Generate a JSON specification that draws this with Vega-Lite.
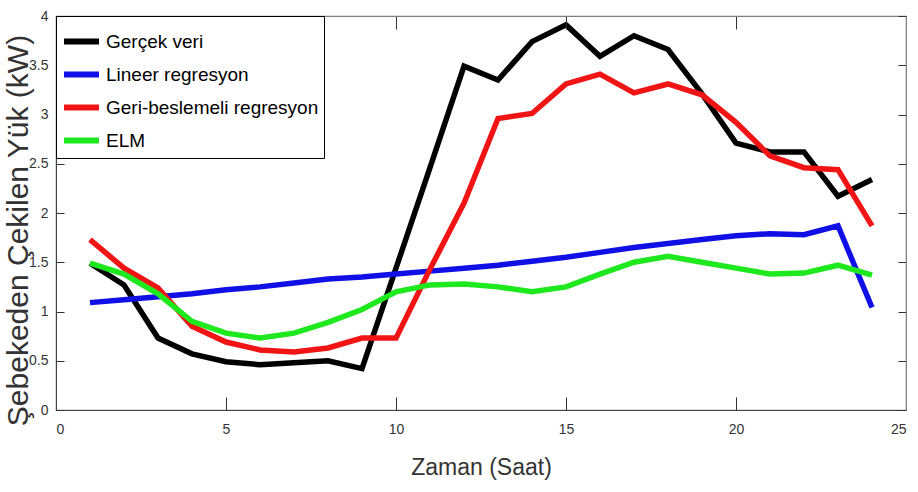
{
  "$schema": "https://vega.github.io/schema/vega-lite/v6.json",
  "width": 850,
  "height": 394,
  "autosize": {"type": "none"},
  "padding": {"left": 56, "top": 16, "right": 12, "bottom": 82},
  "background": "white",
  "config": {
    "font": "Liberation Sans, Arial, sans-serif",
    "view": {"stroke": "#808080", "strokeWidth": 1.2}
  },
  "data": {
    "values": [
      {"saat": 1, "seri": "Gerçek veri", "yuk": 1.49},
      {"saat": 2, "seri": "Gerçek veri", "yuk": 1.27},
      {"saat": 3, "seri": "Gerçek veri", "yuk": 0.73},
      {"saat": 4, "seri": "Gerçek veri", "yuk": 0.57},
      {"saat": 5, "seri": "Gerçek veri", "yuk": 0.49},
      {"saat": 6, "seri": "Gerçek veri", "yuk": 0.46},
      {"saat": 7, "seri": "Gerçek veri", "yuk": 0.48},
      {"saat": 8, "seri": "Gerçek veri", "yuk": 0.5},
      {"saat": 9, "seri": "Gerçek veri", "yuk": 0.42},
      {"saat": 10, "seri": "Gerçek veri", "yuk": 1.44},
      {"saat": 11, "seri": "Gerçek veri", "yuk": 2.46},
      {"saat": 12, "seri": "Gerçek veri", "yuk": 3.49},
      {"saat": 13, "seri": "Gerçek veri", "yuk": 3.35},
      {"saat": 14, "seri": "Gerçek veri", "yuk": 3.74},
      {"saat": 15, "seri": "Gerçek veri", "yuk": 3.91},
      {"saat": 16, "seri": "Gerçek veri", "yuk": 3.59},
      {"saat": 17, "seri": "Gerçek veri", "yuk": 3.8},
      {"saat": 18, "seri": "Gerçek veri", "yuk": 3.66},
      {"saat": 19, "seri": "Gerçek veri", "yuk": 3.21},
      {"saat": 20, "seri": "Gerçek veri", "yuk": 2.71},
      {"saat": 21, "seri": "Gerçek veri", "yuk": 2.62},
      {"saat": 22, "seri": "Gerçek veri", "yuk": 2.62},
      {"saat": 23, "seri": "Gerçek veri", "yuk": 2.17},
      {"saat": 24, "seri": "Gerçek veri", "yuk": 2.34},
      {"saat": 1, "seri": " Lineer regresyon", "yuk": 1.09},
      {"saat": 2, "seri": " Lineer regresyon", "yuk": 1.12},
      {"saat": 3, "seri": " Lineer regresyon", "yuk": 1.15},
      {"saat": 4, "seri": " Lineer regresyon", "yuk": 1.18},
      {"saat": 5, "seri": " Lineer regresyon", "yuk": 1.22},
      {"saat": 6, "seri": " Lineer regresyon", "yuk": 1.25},
      {"saat": 7, "seri": " Lineer regresyon", "yuk": 1.29},
      {"saat": 8, "seri": " Lineer regresyon", "yuk": 1.33},
      {"saat": 9, "seri": " Lineer regresyon", "yuk": 1.35},
      {"saat": 10, "seri": " Lineer regresyon", "yuk": 1.38},
      {"saat": 11, "seri": " Lineer regresyon", "yuk": 1.41},
      {"saat": 12, "seri": " Lineer regresyon", "yuk": 1.44},
      {"saat": 13, "seri": " Lineer regresyon", "yuk": 1.47},
      {"saat": 14, "seri": " Lineer regresyon", "yuk": 1.51},
      {"saat": 15, "seri": " Lineer regresyon", "yuk": 1.55},
      {"saat": 16, "seri": " Lineer regresyon", "yuk": 1.6},
      {"saat": 17, "seri": " Lineer regresyon", "yuk": 1.65},
      {"saat": 18, "seri": " Lineer regresyon", "yuk": 1.69},
      {"saat": 19, "seri": " Lineer regresyon", "yuk": 1.73},
      {"saat": 20, "seri": " Lineer regresyon", "yuk": 1.77},
      {"saat": 21, "seri": " Lineer regresyon", "yuk": 1.79},
      {"saat": 22, "seri": " Lineer regresyon", "yuk": 1.78},
      {"saat": 23, "seri": " Lineer regresyon", "yuk": 1.87},
      {"saat": 24, "seri": " Lineer regresyon", "yuk": 1.04},
      {"saat": 1, "seri": "Geri-beslemeli regresyon", "yuk": 1.73},
      {"saat": 2, "seri": "Geri-beslemeli regresyon", "yuk": 1.44},
      {"saat": 3, "seri": "Geri-beslemeli regresyon", "yuk": 1.24},
      {"saat": 4, "seri": "Geri-beslemeli regresyon", "yuk": 0.85},
      {"saat": 5, "seri": "Geri-beslemeli regresyon", "yuk": 0.69},
      {"saat": 6, "seri": "Geri-beslemeli regresyon", "yuk": 0.61},
      {"saat": 7, "seri": "Geri-beslemeli regresyon", "yuk": 0.59},
      {"saat": 8, "seri": "Geri-beslemeli regresyon", "yuk": 0.63},
      {"saat": 9, "seri": "Geri-beslemeli regresyon", "yuk": 0.73},
      {"saat": 10, "seri": "Geri-beslemeli regresyon", "yuk": 0.73},
      {"saat": 11, "seri": "Geri-beslemeli regresyon", "yuk": 1.43},
      {"saat": 12, "seri": "Geri-beslemeli regresyon", "yuk": 2.1},
      {"saat": 13, "seri": "Geri-beslemeli regresyon", "yuk": 2.96},
      {"saat": 14, "seri": "Geri-beslemeli regresyon", "yuk": 3.01},
      {"saat": 15, "seri": "Geri-beslemeli regresyon", "yuk": 3.31},
      {"saat": 16, "seri": "Geri-beslemeli regresyon", "yuk": 3.41},
      {"saat": 17, "seri": "Geri-beslemeli regresyon", "yuk": 3.22},
      {"saat": 18, "seri": "Geri-beslemeli regresyon", "yuk": 3.31},
      {"saat": 19, "seri": "Geri-beslemeli regresyon", "yuk": 3.2},
      {"saat": 20, "seri": "Geri-beslemeli regresyon", "yuk": 2.92},
      {"saat": 21, "seri": "Geri-beslemeli regresyon", "yuk": 2.58},
      {"saat": 22, "seri": "Geri-beslemeli regresyon", "yuk": 2.46},
      {"saat": 23, "seri": "Geri-beslemeli regresyon", "yuk": 2.44},
      {"saat": 24, "seri": "Geri-beslemeli regresyon", "yuk": 1.87},
      {"saat": 1, "seri": "ELM", "yuk": 1.49},
      {"saat": 2, "seri": "ELM", "yuk": 1.38},
      {"saat": 3, "seri": "ELM", "yuk": 1.18},
      {"saat": 4, "seri": "ELM", "yuk": 0.9},
      {"saat": 5, "seri": "ELM", "yuk": 0.78},
      {"saat": 6, "seri": "ELM", "yuk": 0.73},
      {"saat": 7, "seri": "ELM", "yuk": 0.78},
      {"saat": 8, "seri": "ELM", "yuk": 0.89},
      {"saat": 9, "seri": "ELM", "yuk": 1.02},
      {"saat": 10, "seri": "ELM", "yuk": 1.2},
      {"saat": 11, "seri": "ELM", "yuk": 1.27},
      {"saat": 12, "seri": "ELM", "yuk": 1.28},
      {"saat": 13, "seri": "ELM", "yuk": 1.25},
      {"saat": 14, "seri": "ELM", "yuk": 1.2},
      {"saat": 15, "seri": "ELM", "yuk": 1.25},
      {"saat": 16, "seri": "ELM", "yuk": 1.38},
      {"saat": 17, "seri": "ELM", "yuk": 1.5},
      {"saat": 18, "seri": "ELM", "yuk": 1.56},
      {"saat": 19, "seri": "ELM", "yuk": 1.5},
      {"saat": 20, "seri": "ELM", "yuk": 1.44},
      {"saat": 21, "seri": "ELM", "yuk": 1.38},
      {"saat": 22, "seri": "ELM", "yuk": 1.39},
      {"saat": 23, "seri": "ELM", "yuk": 1.47},
      {"saat": 24, "seri": "ELM", "yuk": 1.37}
    ]
  },
  "layer": [
    {
      "mark": {"type": "line", "strokeWidth": 5.5, "strokeJoin": "miter", "clip": true},
      "encoding": {
        "x": {
          "field": "saat",
          "type": "quantitative",
          "scale": {"domain": [0, 25], "nice": false, "zero": false},
          "axis": {
            "orient": "bottom",
            "values": [0, 5, 10, 15, 20, 25],
            "grid": false,
            "ticks": true,
            "tickSize": -13,
            "tickWidth": 1,
            "tickColor": "#333333",
            "domainColor": "#404040",
            "labelPadding": 25,
            "labelFontSize": 14,
            "labelColor": "#333333",
            "title": "Zaman (Saat)",
            "titleFontSize": 23,
            "titleFontWeight": "normal",
            "titleColor": "#333333",
            "titleX": 425,
            "titleY": 57,
            "titleAlign": "center",
            "titleBaseline": "middle",
            "zindex": 1
          }
        },
        "y": {
          "field": "yuk",
          "type": "quantitative",
          "scale": {"domain": [0, 4], "nice": false, "zero": false},
          "axis": {
            "orient": "left",
            "values": [0, 0.5, 1, 1.5, 2, 2.5, 3, 3.5, 4],
            "format": "~g",
            "grid": false,
            "ticks": true,
            "tickSize": -8,
            "tickWidth": 1,
            "tickColor": "#333333",
            "domainColor": "#404040",
            "labelPadding": 16,
            "labelFontSize": 14,
            "labelColor": "#333333",
            "title": "Şebekeden Çekilen Yük (kW)",
            "titleFontSize": 30,
            "titleFontWeight": "normal",
            "titleColor": "#333333",
            "titleAngle": -90,
            "titleX": -38,
            "titleY": 214,
            "titleAlign": "center",
            "titleBaseline": "middle",
            "zindex": 1
          }
        },
        "color": {
          "field": "seri",
          "type": "nominal",
          "sort": ["Gerçek veri", " Lineer regresyon", "Geri-beslemeli regresyon", "ELM"],
          "scale": {
            "domain": ["Gerçek veri", " Lineer regresyon", "Geri-beslemeli regresyon", "ELM"],
            "range": ["#000000", "#1010e6", "#f01414", "#1ee81e"]
          },
          "legend": {
            "orient": "top-left",
            "offset": 0,
            "title": null,
            "padding": 5,
            "rowPadding": -2,
            "symbolType": "stroke",
            "symbolSize": 1225,
            "symbolStrokeWidth": 6,
            "labelOffset": 4,
            "labelFontSize": 19,
            "labelColor": "#000000",
            "labelLimit": 400,
            "strokeColor": "#000000",
            "fillColor": "#ffffff",
            "cornerRadius": 0,
            "zindex": 2
          }
        }
      }
    },
    {
      "mark": {"type": "line", "opacity": 0},
      "encoding": {
        "x": {
          "field": "saat",
          "type": "quantitative",
          "axis": {
            "orient": "top",
            "values": [0, 5, 10, 15, 20, 25],
            "labels": false,
            "title": null,
            "grid": false,
            "ticks": true,
            "tickSize": -13,
            "tickWidth": 1,
            "tickColor": "#333333",
            "domainColor": "#808080",
            "zindex": 1
          }
        },
        "y": {
          "field": "yuk",
          "type": "quantitative",
          "axis": {
            "orient": "right",
            "values": [0, 0.5, 1, 1.5, 2, 2.5, 3, 3.5, 4],
            "labels": false,
            "title": null,
            "grid": false,
            "ticks": true,
            "tickSize": -8,
            "tickWidth": 1,
            "tickColor": "#333333",
            "domainColor": "#808080",
            "zindex": 1
          }
        },
        "detail": {"field": "seri", "type": "nominal"}
      }
    }
  ],
  "resolve": {"axis": {"x": "independent", "y": "independent"}}
}
